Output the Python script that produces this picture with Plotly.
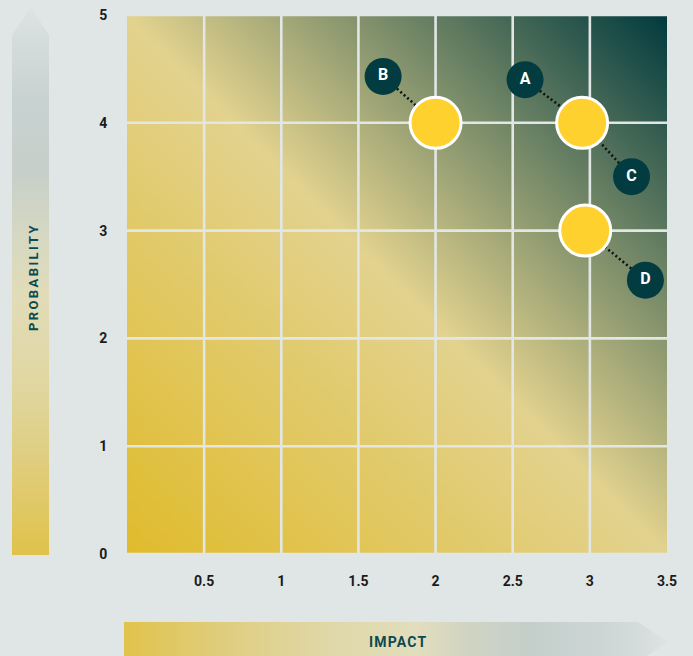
import numpy as np
import plotly.graph_objects as go

# ---- data ----
x_ticks = [0.5, 1, 1.5, 2, 2.5, 3, 3.5]
x_tick_text = ["0.5", "1", "1.5", "2", "2.5", "3", "3.5"]
y_ticks = [0, 1, 2, 3, 4, 5]
y_tick_text = ["0", "1", "2", "3", "4", "5"]

risk_x = [2.0, 2.95, 2.97]
risk_y = [4.0, 4.0, 3.0]

label_names = ["A", "B", "C", "D"]
label_x = [2.58, 1.66, 3.27, 3.36]
label_y = [4.40, 4.43, 3.50, 2.54]
label_target = [1, 0, 1, 2]  # index of risk point each label links to

x_title = "IMPACT"
y_title = "PROBABILITY"

# ---- style ----
BG = "#dfe6e5"
W, H = 693, 656
PL, PR, PT, PB = 127, 667, 15, 554  # plot area in pixels
TEAL = "#0b4a4f"
FONT = "Roboto"

fig = go.Figure()

# gradient background for the plot area
gx = np.linspace(0, 3.5, 71)
gy = np.linspace(0, 5, 101)
gz = (gx[None, :] / 3.5 + gy[:, None] / 5) / 2
fig.add_trace(go.Heatmap(
    x=gx, y=gy, z=gz, zmin=0, zmax=1, zsmooth="best", showscale=False,
    colorscale=[[0, "#e0bb2b"], [0.5, "#e2d28e"], [1, "#003a3e"]],
    hoverinfo="skip",
))

# grid lines (drawn as traces so they sit above the gradient)
grid_x_vals = [v for v in x_ticks if v < 3.5]
grid_y_vals = y_ticks
gxs, gys = [], []
for v in grid_x_vals:
    gxs += [v, v, None]
    gys += [0, 5, None]
for v in grid_y_vals:
    gxs += [0, 3.5, None]
    gys += [v, v, None]
fig.add_trace(go.Scatter(x=gxs, y=gys, mode="lines",
                         line=dict(color="#e2e7e6", width=2.6),
                         hoverinfo="skip", showlegend=False))

# dotted connectors
for lx, ly, t in zip(label_x, label_y, label_target):
    fig.add_trace(go.Scatter(
        x=[lx, risk_x[t]], y=[ly, risk_y[t]], mode="lines",
        line=dict(color="#111111", width=2.6, dash="2px,2.6px"),
        hoverinfo="skip", showlegend=False))

# risk markers
fig.add_trace(go.Scatter(
    x=risk_x, y=risk_y, mode="markers",
    marker=dict(size=51, color="#ffd12f", line=dict(color="white", width=3)),
    hoverinfo="skip", showlegend=False))

# labelled markers
fig.add_trace(go.Scatter(
    x=label_x, y=label_y, mode="markers+text", text=label_names,
    textposition="middle center",
    textfont=dict(family=FONT, size=16, color="white", weight="bold"),
    marker=dict(size=37, color="#023c40", line=dict(width=0)),
    hoverinfo="skip", showlegend=False))

# ---- decorative gradient arrows in pixel space (overlay axes) ----
def py(p):
    return H - p

# left (probability) arrow
la_x = [12, 49, 49, 30.5, 12, 12]
la_y = [py(555), py(555), py(35), py(7), py(35), py(555)]
fig.add_trace(go.Scatter(
    x=la_x, y=la_y, mode="lines", fill="toself", line=dict(width=0),
    fillgradient=dict(
        type="vertical", start=py(555), stop=py(7),
        colorscale=[[0, "#e0c24a"], [0.19, "#dfcf84"], [0.32, "#e0d7a2"],
                    [0.47, "#e2dcb8"], [0.58, "#d6d8c2"], [0.70, "#c6cfc9"],
                    [0.83, "#c8d2d1"], [0.95, "#d6dddd"], [1, "#dde4e4"]]),
    xaxis="x2", yaxis="y2", hoverinfo="skip", showlegend=False))

# bottom (impact) arrow
ba_x = [124, 638, 668, 638, 124, 124]
ba_y = [py(622), py(622), py(642), py(662), py(662), py(622)]
fig.add_trace(go.Scatter(
    x=ba_x, y=ba_y, mode="lines", fill="toself", line=dict(width=0),
    fillgradient=dict(
        type="horizontal", start=124, stop=668,
        colorscale=[[0, "#e0c34c"], [0.23, "#dfd08a"], [0.38, "#dfd8a8"],
                    [0.54, "#e2ddbd"], [0.64, "#cfd3c3"], [0.75, "#c4cfcb"],
                    [0.88, "#cdd6d5"], [0.95, "#d5dddc"], [1, "#dde4e4"]]),
    xaxis="x2", yaxis="y2", hoverinfo="skip", showlegend=False))

tick_font = dict(family=FONT, size=14, color="#1b1b1b", weight="bold")

fig.update_layout(
    width=W, height=H,
    margin=dict(l=0, r=0, t=0, b=0, pad=0, autoexpand=False),
    paper_bgcolor=BG, plot_bgcolor="rgba(0,0,0,0)",
    showlegend=False,
    xaxis=dict(domain=[PL / W, PR / W], range=[0, 3.5],
               tickvals=x_ticks, ticktext=x_tick_text,
               showgrid=False, zeroline=False, showline=False,
               ticks="outside", ticklen=14, tickcolor="rgba(0,0,0,0)",
               tickfont=tick_font, fixedrange=True, automargin=False),
    yaxis=dict(domain=[1 - PB / H, 1 - PT / H], range=[0, 5],
               tickvals=y_ticks, ticktext=y_tick_text,
               showgrid=False, zeroline=False, showline=False,
               ticks="outside", ticklen=16, tickcolor="rgba(0,0,0,0)",
               tickfont=tick_font, fixedrange=True, automargin=False),
    xaxis2=dict(domain=[0, 1], range=[0, W], visible=False,
                anchor="y2", fixedrange=True, automargin=False),
    yaxis2=dict(domain=[0, 1], range=[0, H], visible=False,
                anchor="x2", fixedrange=True, automargin=False),
    annotations=[
        dict(text='<span style="letter-spacing:2.4px">' + y_title + '</span>',
             xref="paper", yref="paper",
             x=33 / W, y=1 - 277 / H, textangle=-90, showarrow=False,
             font=dict(family=FONT, size=13, color=TEAL, weight="bold"),
             xanchor="center", yanchor="middle"),
        dict(text='<span style="letter-spacing:1.2px">' + x_title + '</span>',
             xref="paper", yref="paper",
             x=398 / W, y=1 - 642 / H, showarrow=False,
             font=dict(family=FONT, size=14, color=TEAL, weight="bold"),
             xanchor="center", yanchor="middle"),
    ],
)

fig.write_html("out.html")
